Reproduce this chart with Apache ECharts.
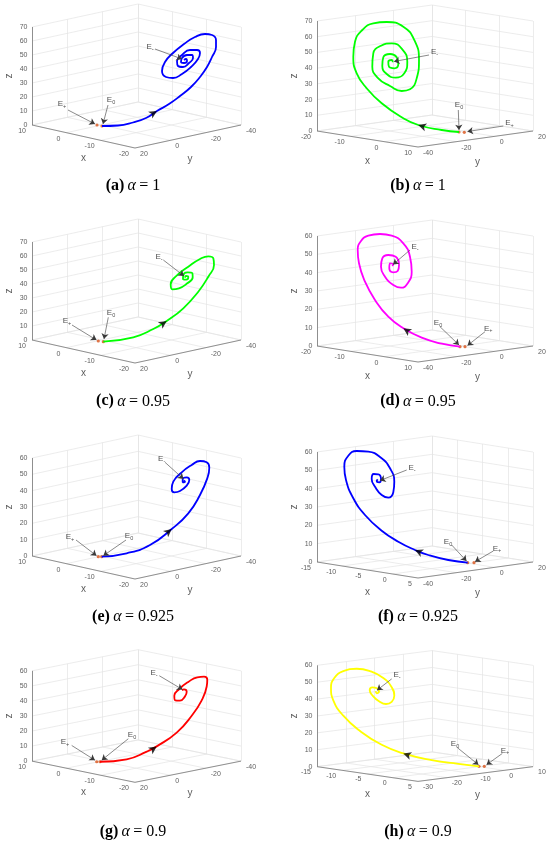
<!DOCTYPE html>
<html>
<head>
<meta charset="utf-8">
<script src="https://cdn.jsdelivr.net/npm/echarts@6/dist/echarts.min.js"></script>
<style>
html, body { margin: 0; padding: 0; background: #fff; }
#main { width: 550px; height: 844px; }
</style>
</head>
<body>
<div id="main"></div>
<script>
// panel captions
var panelNames = ['(a)', '(b)', '(c)', '(d)', '(e)', '(f)', '(g)', '(h)'];
var alphaValues = ['1', '1', '0.95', '0.95', '0.925', '0.925', '0.9', '0.9'];
var curveColors = ['#0000ff', '#00ff00', '#00ff00', '#ff00ff', '#0000ff', '#0000ff', '#ff0000', '#ffff00'];

// axis limits: x [at left corner, at front corner], y [at front corner, at right corner]
var xLimits = [[10, -20], [-20, 10], [10, -20], [-20, 10], [10, -20], [-15, 5], [10, -20], [-15, 5]];
var yLimits = [[20, -40], [-40, 20], [20, -40], [-40, 20], [20, -40], [-40, 20], [20, -40], [-30, 10]];
var zLimits = [[0, 70], [0, 70], [0, 70], [0, 60], [0, 60], [0, 60], [0, 60], [0, 60]];

var xTicks = [[-20, -10, 0, 10], [-20, -10, 0, 10], [-20, -10, 0, 10], [-20, -10, 0, 10],
              [-20, -10, 0, 10], [-15, -10, -5, 0, 5], [-20, -10, 0, 10], [-15, -10, -5, 0, 5]];
var yTicks = [[-40, -20, 0, 20], [-40, -20, 0, 20], [-40, -20, 0, 20], [-40, -20, 0, 20],
              [-40, -20, 0, 20], [-40, -20, 0, 20], [-40, -20, 0, 20], [-30, -20, -10, 0, 10]];
var zTicks70 = [0, 10, 20, 30, 40, 50, 60, 70];
var zTicks60 = [0, 10, 20, 30, 40, 50, 60];
var zTicks = [zTicks70, zTicks70, zTicks70, zTicks60, zTicks60, zTicks60, zTicks60, zTicks60];

var curveA = [[102,126],[118,125.5],[133,122.5],[146,118],[157,111],[169,104],[180,96],[191,87],[200,77],[207,67],
  [212,57],[216,47],[216,40],[212,35],[205,34],[195,37],[184,44],[173,53],[165,62],[162,71],[166,77],[173,78],
  [182,74],[191,67],[198,59],[200,53],[197,50],[190,50],[182,55],[177,61],[178,66],[183,67],[189,63],[193,58],
  [192,55],[187,55],[182,58],[181,62],[184,63],[187,61],[186,59],[184,60]];
var curveB = [[184,132],[166.7,130],[143.3,125],[126.7,117.3],[106.7,103.3],[91.7,88.3],[81.7,73.3],[78.3,56.7],
  [80,41.7],[87.3,30],[98.3,23.3],[111.7,22],[128.3,26.7],[139.3,40],[144,60],[141.7,78.3],[135,89.3],[126.7,91],
  [115,86],[103.3,78.3],[97.3,66.7],[98.3,53.3],[106,45.7],[116.7,43.3],[127.3,49.3],[132.3,61.7],[129.3,73.3],
  [120.7,77.7],[111.7,74],[107.3,66],[108.3,57.3],[115,54],[121.7,57.3],[123.3,64],[119.3,68.3],[114,66.7],
  [113.3,61.7],[116.7,60],[117.7,62.3]];
var curveC = [[103.3,126.7],[133.3,122.3],[153.3,114],[166.7,106],[183.3,93.3],[198.3,76.7],[208.3,61.7],[214,50],
  [213.3,43.3],[208.3,41.3],[200,44],[188.3,51.7],[176.7,60.7],[170.7,69.3],[172.3,74.3],[179,73.3],[187.3,68.3],
  [192.7,62.3],[192.3,58],[187.7,57.3],[183.3,60],[183,64],[186.3,64.7],[188.3,62],[186,61],[185,62.7]];
var curveD = [[185,131.7],[166.7,128.7],[146.7,122.7],[128.3,113.3],[113.3,101.7],[100,85],[90,66.7],[84,48.3],
  [82.7,35],[86,26],[93.3,20.7],[105,19],[116.7,20.7],[128.3,28.3],[135,41.7],[136.7,56.7],[132.7,68.3],[126,72.7],
  [118.3,70],[110,61.7],[106,51.7],[107.3,43.3],[113.3,40],[120.7,41.7],[124,50],[122.7,56],[118.3,57.3],
  [114.3,53.3],[115,48.3],[118.3,49.3],[117.3,51]];
var curveE = [[101.7,125.7],[126.7,122.3],[150,114],[171.7,98],[188.3,82.3],[200,64],[207.3,47.3],[209.3,36.7],
  [206.7,31.3],[200,30],[191.7,34],[181.7,41.3],[173.3,50.7],[171.7,58],[174.3,61.3],[180,60],[186.7,54.7],
  [189.3,49],[186.7,46.3],[182.7,48],[182.7,51.3],[185,50.7],[184,49.3]];
var curveF = [[192.7,131.7],[173.3,129],[153.3,124],[140,119],[123.3,110.7],[106.7,99.7],[90,84],[78.3,67.3],
  [71,49],[69.3,35.7],[73.3,24.7],[81.7,20],[93.3,20.7],[106,26.7],[115,37.3],[119.3,50.7],[118.3,61.3],
  [113.3,66.7],[106.7,64],[100,55.7],[96.7,48],[98.7,43],[103.3,43.3],[106,48],[104.3,51.3],[101.7,50],[102.7,48.3]];
var curveG = [[100,125.7],[126.7,123],[146.7,114.7],[156.7,109],[176.7,94],[191.7,75.7],[201.7,59],[206.7,44],
  [207.3,36.7],[204,33.3],[197.3,34],[188.3,39],[179.3,46.7],[174.3,54],[175.3,59],[180,59.3],[185,54.7],
  [186.7,49.7],[184,47],[182,48]];
var curveH = [[204,130.7],[183.3,128],[156.7,124],[128.3,116.7],[106.7,107.3],[85,92.3],[68.3,75.7],[58.3,59],
  [56,45.7],[59.3,34.7],[68.3,27.3],[81.7,24.7],[95,27.3],[108.3,34.7],[116.7,44.7],[119.3,54],[116.7,60.7],
  [111,63],[104,60],[97.7,54],[94.7,48],[97.3,45],[102,46],[104,49.3],[101.7,51.3],[100.7,49]];
var curves = [curveA, curveB, curveC, curveD, curveE, curveF, curveG, curveH];
var arrowAt = [4, 2, 3, 3, 3, 3, 3, 3];

// equilibrium annotations: [subscript, label x, label y, arrow from x, y, arrow to x, y]
var annotations = [
  [['-',150,47,155,49,182,59], ['+',62,104,68,110,95,124], ['0',111,100,108,105,103,124]],
  [['-',159.5,52,154,55,119,61.5], ['0',184,104.5,183.3,110,184,130], ['+',234.5,122.5,228.3,126,192.5,131.5]],
  [['-',159,41.7,163.3,45,184,61], ['+',67,106,72,110,96.5,125], ['0',111,97.7,108.3,102.3,104,124]],
  [['-',140,31.7,135,35,118,49.5], ['0',163,107.7,165,111.7,184,130], ['+',213.3,113.3,210,116.7,192.5,130.5]],
  [['-',161.7,28,165,31.3,183.5,48], ['+',70,105.7,76,109,96.5,124.7], ['0',129,104.7,126,109,103.3,124.7]],
  [['-',137,36.7,131.7,39,105,49.5], ['0',173,110.7,176.7,114,191.5,130], ['+',222,117.3,218.3,120,200,130.7]],
  [['-',154,29,159.3,32.3,182.5,47.3], ['+',65,104,71.7,108,95,124], ['0',132,96.7,128.3,100.7,101.7,124]],
  [['-',122,31.3,116.7,35.7,102,48], ['0',180,106.7,182.7,110.7,203.5,129], ['+',230,113.3,227.3,116.7,211.5,129]]
];
var ePlusPoints = [[97,125], [189.3,132.3], [98.3,126], [190,131.7], [98.3,125.7], [199,131.7], [96.7,125.7], [209.3,130.7]];

// projected box of each column: left corner, front corner, right corner, height
var boxGeom = [
  {L: [32, 125], F: [135, 148], R: [241, 125], H: 98},
  {L: [42, 131], F: [143, 147], R: [258, 131], H: 110}
];

function project(p, x, y, z) {
  var g = boxGeom[p % 2];
  var tx = (x - xLimits[p][0]) / (xLimits[p][1] - xLimits[p][0]);
  var ty = (y - yLimits[p][0]) / (yLimits[p][1] - yLimits[p][0]);
  var tz = (z - zLimits[p][0]) / (zLimits[p][1] - zLimits[p][0]);
  return [g.L[0] + tx * (g.F[0] - g.L[0]) + ty * (g.R[0] - g.F[0]),
          g.L[1] + tx * (g.F[1] - g.L[1]) + ty * (g.R[1] - g.F[1]) - tz * g.H];
}

var tickFont = {fontFamily: 'Liberation Sans', fontSize: 7, color: '#333'};

function textItem(pos, text, align, extra) {
  var label = {show: true, position: 'inside', formatter: text, align: align, verticalAlign: 'middle',
               fontFamily: tickFont.fontFamily, fontSize: tickFont.fontSize, color: tickFont.color};
  for (var k in extra) label[k] = extra[k];
  return {value: pos, label: label};
}

var grids = [], xAxes = [], yAxes = [], series = [], graphics = [];

for (var p = 0; p < 8; p++) {
  var col = p % 2, row = Math.floor(p / 2);
  grids.push({left: col * 275, top: Math.round(row * 215.3), width: 275, height: 215});
  xAxes.push({type: 'value', gridIndex: p, min: 0, max: 275, show: false});
  yAxes.push({type: 'value', gridIndex: p, min: 0, max: 215, inverse: true, show: false});

  var x0 = xLimits[p][0], x1 = xLimits[p][1];
  var y0 = yLimits[p][0], y1 = yLimits[p][1];
  var z0 = zLimits[p][0], z1 = zLimits[p][1];
  var gridSegs = [], axisSegs = [];
  xTicks[p].forEach(function (t) {
    gridSegs.push([project(p, t, y1, z0), project(p, t, y1, z1)]);
    gridSegs.push([project(p, t, y0, z0), project(p, t, y1, z0)]);
  });
  yTicks[p].forEach(function (t) {
    gridSegs.push([project(p, x0, t, z0), project(p, x0, t, z1)]);
    gridSegs.push([project(p, x0, t, z0), project(p, x1, t, z0)]);
  });
  zTicks[p].forEach(function (t) {
    gridSegs.push([project(p, x0, y0, t), project(p, x0, y1, t)]);
    gridSegs.push([project(p, x0, y1, t), project(p, x1, y1, t)]);
  });
  axisSegs.push([project(p, x0, y0, z0), project(p, x1, y0, z0)]);
  axisSegs.push([project(p, x1, y0, z0), project(p, x1, y1, z0)]);
  axisSegs.push([project(p, x0, y0, z0), project(p, x0, y0, z1)]);

  series.push({
    type: 'lines', coordinateSystem: 'cartesian2d', xAxisIndex: p, yAxisIndex: p, silent: true, z: 1,
    lineStyle: {color: '#e4e4e4', width: 0.7, opacity: 1},
    data: gridSegs.map(function (s) { return {coords: s}; })
  });
  series.push({
    type: 'lines', coordinateSystem: 'cartesian2d', xAxisIndex: p, yAxisIndex: p, silent: true, z: 2,
    lineStyle: {color: '#777', width: 0.8, opacity: 1},
    data: axisSegs.map(function (s) { return {coords: s}; })
  });

  // tick labels and axis names
  var texts = [];
  xTicks[p].forEach(function (t) {
    var q = project(p, t, y0, z0);
    texts.push(textItem([q[0] - 6, q[1] + 6], String(t), 'right', {}));
  });
  yTicks[p].forEach(function (t) {
    var q = project(p, x1, t, z0);
    texts.push(textItem([q[0] + 5, q[1] + 6], String(t), 'left', {}));
  });
  zTicks[p].forEach(function (t) {
    var q = project(p, x0, y0, t);
    texts.push(textItem([q[0] - 4.5, q[1]], String(t), 'right', {}));
  });
  var pl = project(p, x0, y0, z0), pf = project(p, x1, y0, z0), pr = project(p, x1, y1, z0);
  var pt = project(p, x0, y0, z1);
  texts.push(textItem([(pl[0] + pf[0]) / 2, (pl[1] + pf[1]) / 2 + 22], 'x', 'center', {fontSize: 10}));
  texts.push(textItem([(pf[0] + pr[0]) / 2 + 2, (pf[1] + pr[1]) / 2 + 23], 'y', 'center', {fontSize: 10}));
  texts.push(textItem([pl[0] - 23, (pl[1] + pt[1]) / 2], 'z', 'center', {fontSize: 10, rotate: 90}));

  // equilibrium labels
  var arrows = [];
  annotations[p].forEach(function (a) {
    texts.push(textItem([a[1], a[2]], '{e|E}{s|' + a[0] + '}', 'center', {
      rich: {
        e: {fontFamily: 'Liberation Sans', fontSize: 8, color: '#222'},
        s: {fontFamily: 'Liberation Sans', fontSize: 5.5, color: '#222', padding: [5, 0, 0, 0]}
      }
    }));
    arrows.push({coords: [[a[3], a[4]], [a[5], a[6]]]});
  });

  series.push({
    type: 'lines', coordinateSystem: 'cartesian2d', xAxisIndex: p, yAxisIndex: p, silent: true, z: 6,
    symbol: ['none', 'arrow'], symbolSize: 5.5,
    lineStyle: {color: '#3a3a3a', width: 0.6, opacity: 1},
    data: arrows
  });

  series.push({
    type: 'line', xAxisIndex: p, yAxisIndex: p, silent: true, z: 4,
    data: curves[p], smooth: 0.5, showSymbol: false, symbol: 'none',
    lineStyle: {color: curveColors[p], width: 1.8}
  });

  series.push({
    type: 'scatter', xAxisIndex: p, yAxisIndex: p, silent: true, z: 3,
    symbol: 'circle', symbolSize: 3.2, itemStyle: {color: '#D95319'},
    data: [ePlusPoints[p], curves[p][0]]
  });

  // direction arrow on the trajectory
  var c = curves[p], i = arrowAt[p];
  var dx = c[i + 1][0] - c[i - 1][0], dy = c[i + 1][1] - c[i - 1][1];
  var rot = Math.atan2(-dy, dx) * 180 / Math.PI - 90;
  series.push({
    type: 'scatter', xAxisIndex: p, yAxisIndex: p, silent: true, z: 7,
    symbol: 'arrow', symbolSize: [6, 8], itemStyle: {color: '#000'},
    data: [{value: c[i], symbolRotate: rot}]
  });

  series.push({
    type: 'scatter', xAxisIndex: p, yAxisIndex: p, silent: true, z: 8,
    symbolSize: 1, itemStyle: {color: 'rgba(0,0,0,0)'},
    data: texts
  });

  graphics.push({
    type: 'text', x: col === 0 ? 133 : 418, y: 186 + row * 215.3, silent: true,
    style: {
      text: '{b|' + panelNames[p] + '} {i|\u03b1} {n|= ' + alphaValues[p] + '}',
      align: 'center', verticalAlign: 'middle',
      rich: {
        b: {fontFamily: 'Liberation Serif', fontSize: 16, fontWeight: 'bold', fill: '#000', color: '#000'},
        i: {fontFamily: 'Liberation Serif', fontSize: 16, fontStyle: 'italic', fill: '#000', color: '#000'},
        n: {fontFamily: 'Liberation Serif', fontSize: 16, fill: '#000', color: '#000'}
      }
    }
  });
}

var chart = echarts.init(document.getElementById('main'));
chart.setOption({
  animation: false,
  backgroundColor: '#fff',
  grid: grids,
  xAxis: xAxes,
  yAxis: yAxes,
  series: series,
  graphic: graphics
});
</script>
</body>
</html>
